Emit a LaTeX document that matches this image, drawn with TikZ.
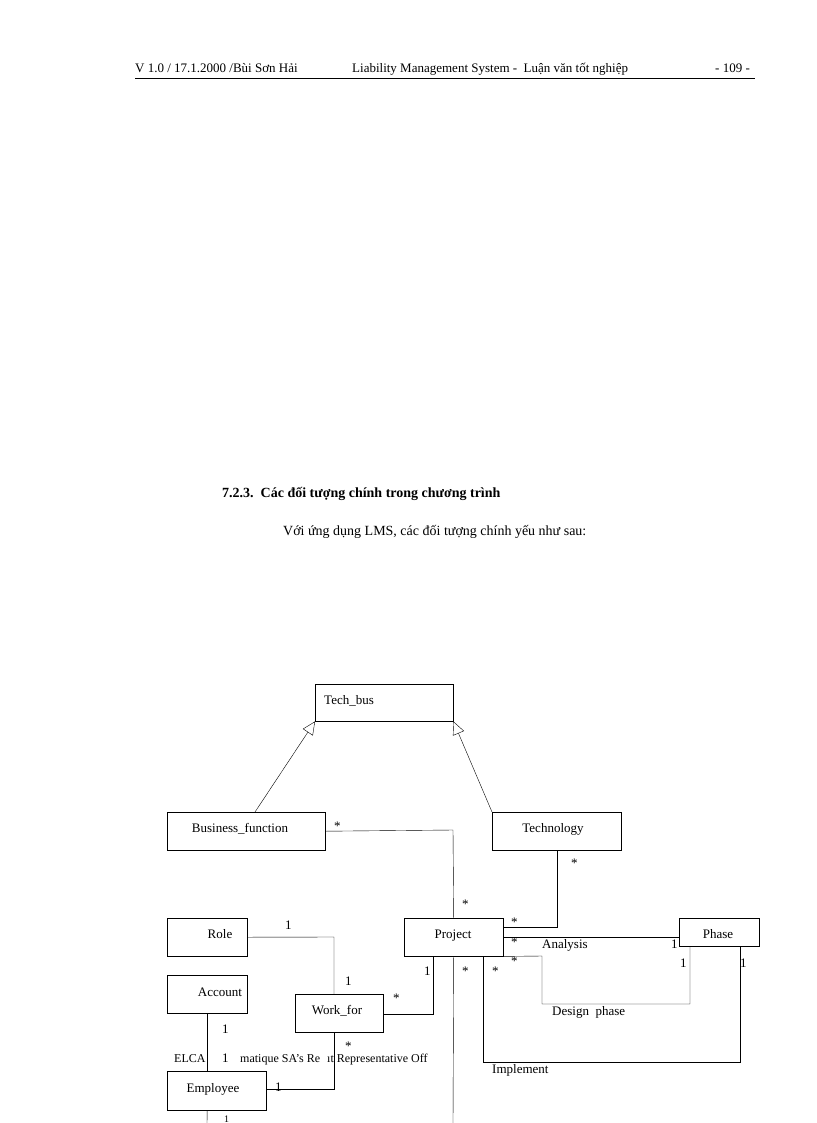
\documentclass[tikz,border=0pt]{standalone}
\usepackage{fontspec}
\setmainfont{Liberation Serif}
\usetikzlibrary{arrows.meta}
\begin{document}
\begin{tikzpicture}[x=1pt,y=-1pt,
 box/.style={draw,inner sep=0,anchor=north west},
 lbl/.style={font=\fontsize{13}{14}\selectfont,inner sep=0,anchor=base west},
 gen/.style={-{Triangle[open,length=13pt,width=12pt]}},
 ln/.style={line width=0.6pt}]
\useasboundingbox (0,0) rectangle (816,1123);
\node[lbl] (h1) at (135,73) {V 1.0 / 17.1.2000 /Bùi Sơn Hải};
\node[lbl] (h2) at (352,73) {Liability Management System -\ \ Luận văn tốt nghiệp};
\node[lbl] (h3) at (715,73) {- 109 -};
\draw[ln] (135,78) -- (755,78);
\node[lbl,font=\bfseries\fontsize{14}{16}\selectfont] (t1) at (222,497) {7.2.3.\ \ Các đối tượng chính trong chương trình};
\node[lbl,font=\fontsize{14}{16}\selectfont] (t2) at (283,535) {Với ứng dụng LMS, các đối tượng chính yếu như sau:};
% boxes
\node[box,minimum width=138,minimum height=37] (tb) at (315,684) {};
\node[lbl] at (324,704) {Tech\_bus};
\node[box,minimum width=158,minimum height=38] (bf) at (167,812) {};
\node[lbl,anchor=base] at (240,832) {Business\_function};
\node[box,minimum width=129,minimum height=38] (te) at (492,812) {};
\node[lbl,anchor=base] at (553,832) {Technology};
\node[box,minimum width=80,minimum height=38] (ro) at (167,918) {};
\node[lbl,anchor=base] at (220,938) {Role};
\node[box,minimum width=99,minimum height=38] (pr) at (404,918) {};
\node[lbl,anchor=base] at (453,938) {Project};
\node[box,minimum width=80,minimum height=28] (ph) at (679,918) {};
\node[lbl,anchor=base] at (718,938) {Phase};
\node[box,minimum width=80,minimum height=38] (ac) at (167,975) {};
\node[lbl,anchor=base] at (220,996) {Account};
\node[box,minimum width=88,minimum height=38] (wf) at (295,994) {};
\node[lbl,anchor=base] at (337,1014) {Work\_for};
\node[box,minimum width=99,minimum height=39] (em) at (167,1071) {};
\node[lbl,anchor=base] at (213,1092) {Employee};
% generalizations
\draw[gen] (bf.north west -| 255,812) -- (tb.south west);
\draw[gen] (te.north west) -- (tb.south east);
% connectors
\coordinate (bot1) at (453,1123);
\draw (bf.east) -- (453,830) -- (pr.north);
\draw (pr.south) -- (bot1);
\draw (te.south -| 557,850) -- (557,927) -- (pr.east |- 0,927);
\draw (pr.east |- 0,937) -- (ph.west |- 0,937);
\draw (pr.south east) -- (542,956) -- (542,1004) -- (690,1004) -- (ph.south -| 690,946);
\draw (pr.south -| 483,956) -- (483,1062) -- (740,1062) -- (ph.south -| 740,946);
\draw (pr.south -| 433,956) -- (433,1014) -- (wf.east |- 0,1014);
\draw (ro.east) -- (334,937) -- (wf.north -| 334,994);
\draw (wf.south -| 334,1032) -- (334,1089) -- (em.east |- 0,1089);
\draw (ac.south) -- (em.north -| ac.south);
\coordinate (bot2) at (207,1123);
\draw (em.south -| ac.south) -- (bot2);
% labels
\node[lbl] at (334,830) {*};
\node[lbl] at (462,908) {*};
\node[lbl] at (571,867) {*};
\node[lbl] at (511,926) {*};
\node[lbl] at (511,946) {*};
\node[lbl] at (542,948) {Analysis};
\node[lbl] at (671,948) {1};
\node[lbl] at (511,965) {*};
\node[lbl] at (680,967) {1};
\node[lbl] at (740,967) {1};
\node[lbl] at (552,1015) {Design\ \ phase};
\node[lbl] at (462,975) {*};
\node[lbl] at (492,975) {*};
\node[lbl] at (492,1073) {Implement};
\node[lbl] at (424,975) {1};
\node[lbl] at (393,1002) {*};
\node[lbl] at (285,929) {1};
\node[lbl] at (345,985) {1};
\node[lbl] at (345,1050) {*};
\node[lbl] at (275,1091) {1};
\node[lbl] at (222,1033) {1};
\node[lbl,font=\fontsize{12}{13}\selectfont] at (174,1062) {ELCA};
\node[lbl] at (222,1062) {1};
\node[lbl,font=\fontsize{12}{13}\selectfont] at (240,1062) {matique SA's Re};
\node[lbl,font=\fontsize{12}{13}\selectfont] at (327,1062) {ıt Representative Off};
\node[lbl,font=\fontsize{10}{11}\selectfont] at (224,1122) {1};
\end{tikzpicture}
\end{document}
